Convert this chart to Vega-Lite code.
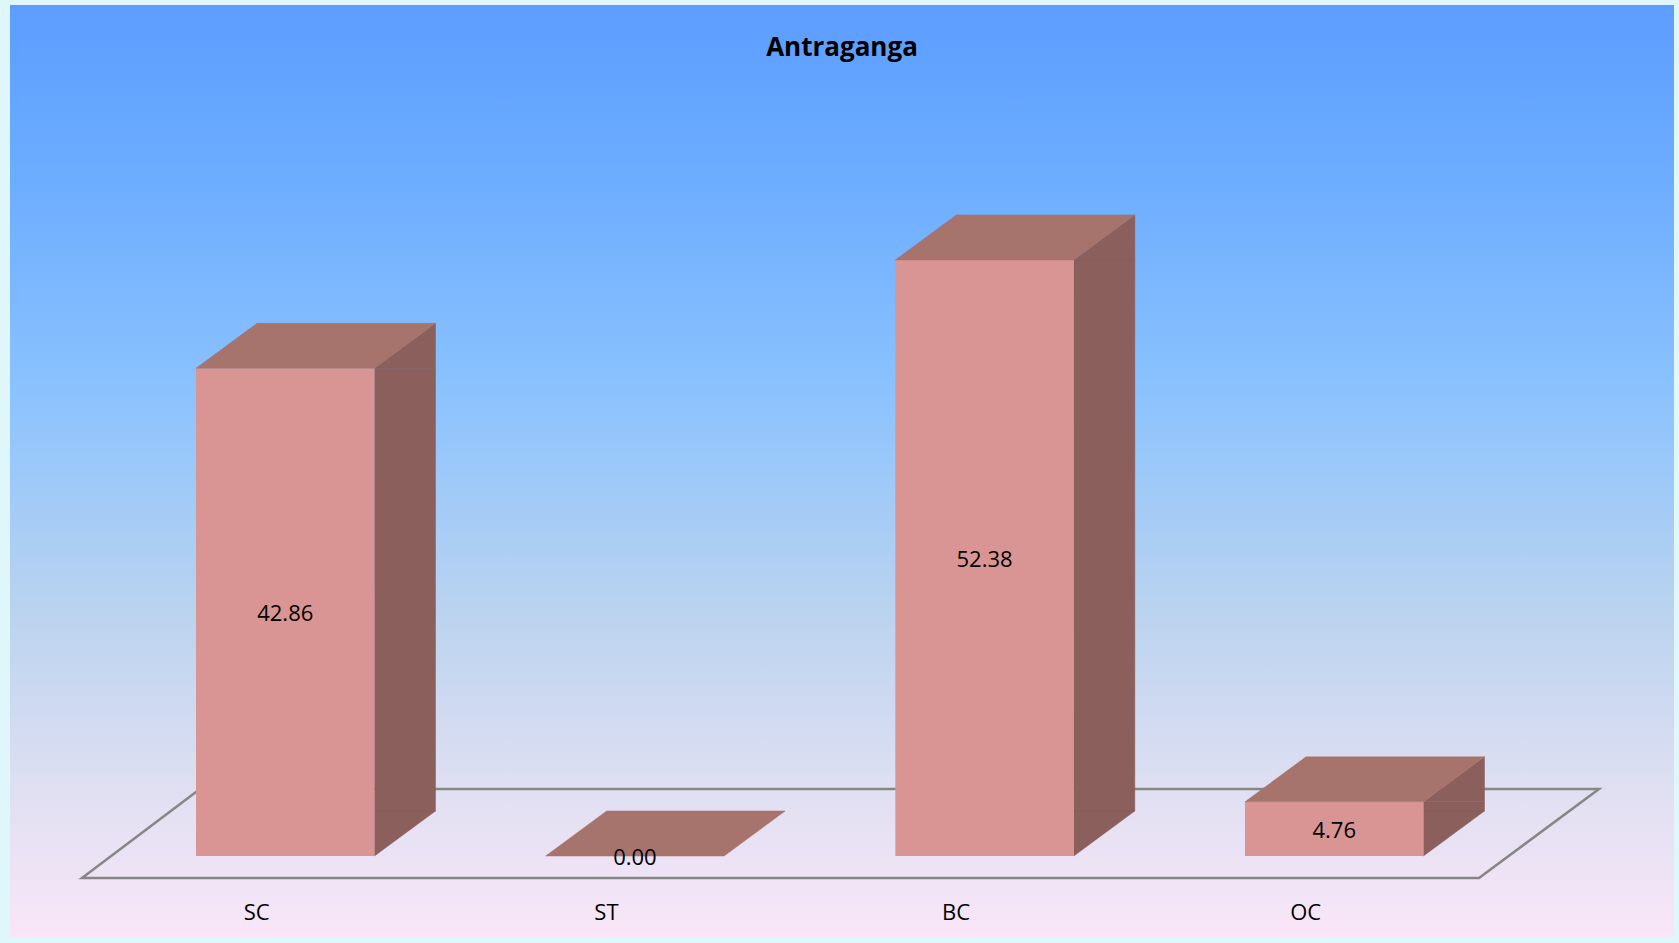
{
  "$schema": "https://vega.github.io/schema/vega-lite/v6.json",
  "width": 1664,
  "height": 933,
  "autosize": {"type": "none"},
  "padding": {"left": 10, "top": 5, "right": 5, "bottom": 5},
  "background": "#dff6fa",
  "title": {"text": "Antraganga", "font": "Open Sans", "fontSize": 26, "fontWeight": "bold", "color": "#000000", "anchor": "middle", "offset": -56},
  "config": {
    "view": {"stroke": null},
    "font": "Open Sans",
    "axis": {"disable": true}
  },
  "data": {"values": [
    {"cat": "SC", "value": 42.86},
    {"cat": "ST", "value": 0},
    {"cat": "BC", "value": 52.38},
    {"cat": "OC", "value": 4.76}
  ]},
  "resolve": {"scale": {"y": "independent"}, "axis": {"y": "independent"}},
  "layer": [
    {
      "data": {"values": [{"part": "background"}]},
      "mark": {"type": "rect", "fill": {"gradient": "linear", "x1": 0, "y1": 0, "x2": 0, "y2": 1,
        "stops": [
          {"offset": 0, "color": "#5c9dff"},
          {"offset": 0.2, "color": "#6eaeff"},
          {"offset": 0.42, "color": "#8cc3fe"},
          {"offset": 0.65, "color": "#bad3ef"},
          {"offset": 0.85, "color": "#e1e0f2"},
          {"offset": 1, "color": "#f9e6f8"}
        ]}},
      "encoding": {}
    },
    {
      "data": {"values": [{"part": "floor"}]},
      "mark": {"type": "point", "shape": "M -7.6 0.22 L 6.37 0.22 L 7.57 -0.67 L -6.42 -0.67 Z", "size": 40000, "filled": false, "stroke": "#868686", "strokeWidth": 2.5, "opacity": 1},
      "encoding": {
        "y": {"datum": 0, "type": "quantitative", "scale": {"domain": [-7.206, 74.78], "nice": false, "zero": false}, "axis": null}
      }
    },
    {
      "transform": [{"filter": "datum.value > 0"}],
      "mark": {"type": "bar", "width": 61, "xOffset": 119.75, "y2Offset": -45, "color": "#8b5f5c", "stroke": "#8b5f5c", "strokeWidth": 0.5},
      "encoding": {
        "x": {"field": "cat", "type": "nominal", "sort": ["SC", "ST", "BC", "OC"], "axis": null},
        "y": {"field": "value", "type": "quantitative", "scale": {"domain": [-7.206, 74.78], "nice": false, "zero": false}, "axis": null},
        "y2": {"datum": 0}
      }
    },
    {
      "transform": [{"filter": "datum.value > 0"}],
      "mark": {"type": "point", "shape": "M 0.8925 0 L 1.5025 -0.45 L 1.5025 0 Z", "size": 40000, "filled": true, "color": "#8b5f5c", "stroke": "#8b5f5c", "strokeWidth": 0.5, "opacity": 1},
      "encoding": {
        "x": {"field": "cat", "type": "nominal", "sort": ["SC", "ST", "BC", "OC"], "axis": null},
        "y": {"field": "value", "type": "quantitative", "scale": {"domain": [-7.206, 74.78], "nice": false, "zero": false}, "axis": null}
      }
    },
    {
      "transform": [{"filter": "datum.value > 0"}],
      "mark": {"type": "point", "shape": "M 0.8925 -0.45 L 0.8925 0 L 1.5025 -0.45 Z", "size": 40000, "filled": true, "color": "#8b5f5c", "stroke": "#8b5f5c", "strokeWidth": 0.5, "opacity": 1},
      "encoding": {
        "x": {"field": "cat", "type": "nominal", "sort": ["SC", "ST", "BC", "OC"], "axis": null},
        "y": {"datum": 0, "type": "quantitative", "scale": {"domain": [-7.206, 74.78], "nice": false, "zero": false}, "axis": null}
      }
    },
    {
      "mark": {"type": "bar", "color": "#d99593"},
      "encoding": {
        "x": {
          "field": "cat", "type": "nominal", "sort": ["SC", "ST", "BC", "OC"], "axis": null,
          "scale": {"paddingInner": 0.4895, "paddingOuter": 0.6242, "align": 0.4261}
        },
        "y": {"field": "value", "type": "quantitative", "scale": {"domain": [-7.206, 74.78], "nice": false, "zero": false}, "axis": null},
        "y2": {"datum": 0}
      }
    },
    {
      "mark": {"type": "point", "shape": "M -0.8925 0 L 0.8925 0 L 1.5025 -0.45 L -0.2825 -0.45 Z", "size": 40000, "filled": true, "color": "#a6736d", "stroke": "#a6736d", "strokeWidth": 0.5, "opacity": 1},
      "encoding": {
        "x": {"field": "cat", "type": "nominal", "sort": ["SC", "ST", "BC", "OC"], "axis": null},
        "y": {"field": "value", "type": "quantitative", "scale": {"domain": [-7.206, 74.78], "nice": false, "zero": false}, "axis": null}
      }
    },
    {
      "mark": {"type": "text", "font": "Open Sans", "fontSize": 22, "color": "#000000", "align": "center", "baseline": "middle", "yOffset": 57, "xOffset": -28.5},
      "encoding": {
        "x": {"field": "cat", "type": "nominal", "sort": ["SC", "ST", "BC", "OC"], "axis": null},
        "y": {"datum": 0, "type": "quantitative", "scale": {"domain": [-7.206, 74.78], "nice": false, "zero": false}, "axis": null},
        "text": {"field": "cat", "type": "nominal"}
      }
    },
    {
      "mark": {"type": "text", "font": "Open Sans", "fontSize": 22, "color": "#000000", "align": "center", "baseline": "middle", "yOffset": 2},
      "encoding": {
        "x": {"field": "cat", "type": "nominal", "sort": ["SC", "ST", "BC", "OC"], "axis": null},
        "y": {"field": "value", "type": "quantitative", "scale": {"domain": [-14.412, 149.56], "nice": false, "zero": false}, "axis": null},
        "text": {"field": "value", "type": "quantitative", "format": ".2f"}
      }
    }
  ]
}
